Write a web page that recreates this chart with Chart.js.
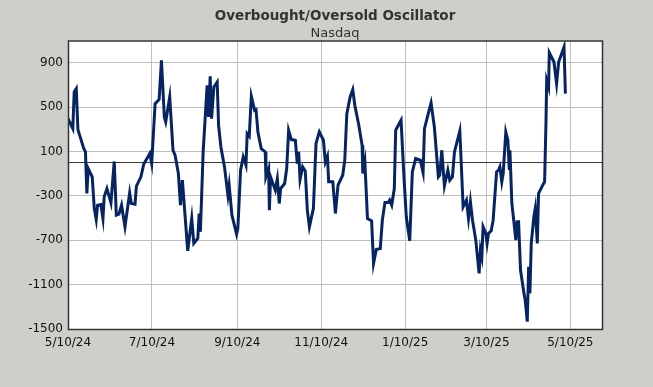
<!DOCTYPE html>
<html>
<head>
<meta charset="utf-8">
<script src="https://cdn.jsdelivr.net/npm/chart.js@4.4.1/dist/chart.umd.min.js"></script>
<style>
  html, body { margin: 0; padding: 0; background: #ccd0c8; }
  canvas { display: block; }
</style>
</head>
<body>
<canvas id="osc" width="653" height="387"></canvas>
<script>
// Дни от 5/10/24 (ось X) и значения осциллятора
const dayOffsets = [
  0, 3.5, 4.5, 6, 7.2, 11.5, 12.7, 13.7, 14.7, 17.6, 19.1, 20.5, 21.5, 23.9, 25.4, 26.3,
  28.3, 31.2, 33.6, 35.1, 37, 38.9, 41.4, 44.8, 46, 48.7, 49.7, 53, 55, 59.4, 60.8, 63.3,
  66.2, 67.9, 70, 71, 73.9, 76.3, 77.8, 80.2, 81.7, 83.1, 87, 89.9, 91.4, 94.3, 95.3, 96.2,
  98.2, 101.1, 102.1, 103.3, 104.3, 106, 108.4, 109.4, 111.1, 113.7, 116.2, 117.1, 119.1, 122.5,
  123.4, 125.4, 127.3, 129.3, 130.2, 131.7, 133.2, 135.6, 136.6, 138, 140.4, 143.3, 143.8, 145.8,
  146.3, 147.2, 150.6, 152.1, 153.5, 154.5, 157.4, 158.9, 160.3, 162.3, 165.2, 166.6, 167.6, 168.6,
  170.5, 172.4, 173.9, 175.4, 178.3, 180.2, 182.6, 185.6, 187, 188.5, 189.4, 192.4, 194.3, 196.2,
  199.6, 201.1, 202.6, 205, 206.9, 208.4, 211.3, 213.7, 214.2, 215.7, 217.6, 220.6, 222, 224,
  226.9, 228.4, 230.3, 232.7, 233.7, 235.2, 237.1, 238.1, 242, 243.9, 245.8, 248.3, 250.2, 252.6,
  256, 258, 259, 261.9, 263.8, 266.2, 269.1, 270.1, 271.6, 273.5, 276, 277.4, 279.3, 280.8,
  284.7, 287.1, 289.5, 291, 292.4, 293.9, 296.3, 298.7, 299.7, 300.7, 301.6, 303.6, 304.5, 305.5,
  307.5, 308.9, 311.4, 312.8, 313.8, 315.2, 316.2, 318.1, 319.6, 320.6, 321.1, 322.5, 324, 325.4,
  326.4, 327.4, 328.8, 331.3, 332.2, 333.7, 334.7, 335.6, 336.6, 338.5, 339.5, 341, 341.9, 344.9,
  346.3, 347.3, 347.8, 349.2, 349.7, 353.1, 355, 356.5, 360.4, 361.4
];
const oscValues = [
  396, 306, 636, 666, 297, 126, 96, -279, -54, -129, -414, -513, -384, -378, -504, -309,
  -234, -363, 10, -474, -465, -384, -579, -273, -369, -375, -213, -129, -15, 81, -9, 531,
  567, 921, 411, 366, 591, 111, 66, -99, -384, -159, -795, -504, -729, -684, -459, -624,
  96, 696, 411, 777, 396, 681, 726, 336, 141, -39, -294, -204, -474, -645,
  -594, -69, 51, -24, 261, 237, 597, 471, 477, 276, 126, 96, -129, -54,
  -429, -129, -249, -144, -369, -234, -189, -54, 291, 207, 201, -9, 96, -153,
  -39, -78, -429, -579, -414, 171, 276, 201, 6, 57, -174, -174, -459, -204,
  -114, 21, 441, 591, 657, 516, 336, 156, -99, 6, -504, -525, -909, -783,
  -774, -519, -360, -360, -339, -384, -234, 291, 381, -84, -489, -705, -84, 36,
  21, -90, 306, 447, 537, 321, -129, -114, 111, -210, -69, -159, -129, 96,
  285, -399, -339, -504, -354, -519, -699, -999, -789, -849, -579, -639, -729, -639,
  -615, -519, -84, -69, -39, -174, -99, 276, 201, -54, 111, -369, -534, -699,
  -534, -534, -969, -1179, -1239, -1434, -939, -1179, -729, -489, -414, -729, -279, -204,
  -174, 366, 741, 681, 990, 906, 711, 906, 1041, 621
];

// Подписи оси X и их позиции (в днях)
const tickDays = [0, 61, 123, 184, 245, 304, 365];
const tickLabels = ['5/10/24', '7/10/24', '9/10/24', '11/10/24', '1/10/25', '3/10/25', '5/10/25'];
const yTicks = [-1500, -1100, -700, -300, 100, 500, 900];

const seriesPoints = dayOffsets.map((d, i) => ({ x: d, y: oscValues[i] }));

// Белая область графика и рамка вокруг
const plotFrame = {
    id: 'plotFrame',
    beforeDraw(chart) {
        const { ctx, chartArea } = chart;
        ctx.save();
        ctx.fillStyle = '#ffffff';
        ctx.fillRect(chartArea.left, chartArea.top, chartArea.right - chartArea.left, chartArea.bottom - chartArea.top);
        ctx.restore();
    },
    afterDraw(chart) {
        const { ctx, chartArea } = chart;
        ctx.save();
        ctx.strokeStyle = '#333333';
        ctx.lineWidth = 1.5;
        ctx.strokeRect(chartArea.left + 0.5, chartArea.top + 0.5, chartArea.right - chartArea.left, chartArea.bottom - chartArea.top);
        ctx.restore();
    }
};

const ctx = document.getElementById('osc').getContext('2d');
new Chart(ctx, {
    type: 'line',
    data: {
        datasets: [{
            label: 'Oscillator',
            data: seriesPoints,
            borderColor: '#062462',
            borderWidth: 3,
            pointRadius: 0,
            tension: 0,
            fill: false,
            order: 0
        }, {
            label: 'Zero',
            data: [{ x: 0, y: 0 }, { x: 388, y: 0 }],
            borderColor: '#333333',
            borderWidth: 1,
            pointRadius: 0,
            fill: false,
            order: 1
        }]
    },
    options: {
        responsive: false,
        animation: false,
        layout: {
            padding: { left: 0, right: 51, top: 0, bottom: 0 }
        },
        plugins: {
            legend: { display: false },
            tooltip: { enabled: false },
            // заголовки центрируются над областью графика
            title: {
                display: true,
                fullSize: false,
                text: 'Overbought/Oversold Oscillator',
                color: '#333333',
                font: { family: 'DejaVu Sans', size: 13.5, weight: 'bold', lineHeight: 1.2 },
                padding: { top: 8.5, bottom: 0 }
            },
            subtitle: {
                display: true,
                fullSize: false,
                text: 'Nasdaq',
                color: '#333333',
                font: { family: 'DejaVu Sans', size: 13, weight: 'normal', lineHeight: 1.1 },
                padding: { top: 1.5, bottom: 0 }
            }
        },
        scales: {
            x: {
                type: 'linear',
                min: 0,
                max: 388,
                afterBuildTicks: (scale) => {
                    scale.ticks = tickDays.map(v => ({ value: v }));
                },
                afterFit: (scale) => { scale.height = 58; },
                ticks: {
                    color: '#111111',
                    font: { family: 'DejaVu Sans', size: 12 },
                    padding: 7,
                    maxRotation: 0,
                    autoSkip: false,
                    callback: (value, index) => tickLabels[index]
                },
                grid: { color: '#c0c0c0', lineWidth: 1, drawTicks: false },
                border: { display: false }
            },
            y: {
                min: -1500,
                max: 1100,
                afterBuildTicks: (scale) => {
                    scale.ticks = yTicks.map(v => ({ value: v }));
                },
                afterFit: (scale) => { scale.width = 68; },
                ticks: {
                    color: '#111111',
                    font: { family: 'DejaVu Sans', size: 12 },
                    padding: 5,
                    autoSkip: false,
                    callback: (value) => String(value)
                },
                grid: { color: '#c0c0c0', lineWidth: 1, drawTicks: false },
                border: { display: false }
            }
        }
    },
    plugins: [plotFrame]
});
</script>
</body>
</html>
